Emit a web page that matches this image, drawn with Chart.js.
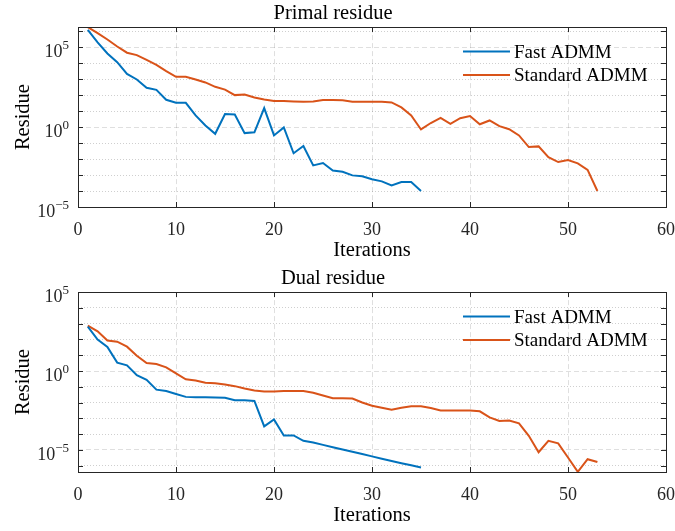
<!DOCTYPE html>
<html>
<head>
<meta charset="utf-8">
<script src="https://cdn.jsdelivr.net/npm/chart.js@4/dist/chart.umd.min.js"></script>
<style>
  body { margin: 0; background: #fff; }
  canvas { position: absolute; left: 0; }
  #primal { top: 0; }
  #dual { top: 265px; }
</style>
</head>
<body>
<canvas id="primal" width="675" height="266"></canvas>
<canvas id="dual" width="675" height="266"></canvas>
<script>
// iteration numbers (x axis)
const iterations = [1,2,3,4,5,6,7,8,9,10,11,12,13,14,15,16,17,18,19,20,21,22,23,24,25,26,27,28,29,30,
  31,32,33,34,35,36,37,38,39,40,41,42,43,44,45,46,47,48,49,50,51,52,53];
const xTicks = [0, 10, 20, 30, 40, 50, 60];
const seriesNames = ['Fast ADMM', 'Standard ADMM'];

// primal residue
const primalFast = [1.2e6, 2.0e5, 4.0e4, 1.15e4, 2.1e3, 950, 290, 215, 51, 33, 33, 5.4, 1.26, 0.38, 6.5, 6.2,
  0.42, 0.47, 15.5, 0.3, 0.95, 0.023, 0.065, 0.004, 0.0056, 0.0019, 0.0016, 9.5e-4, 8.3e-4, 5.4e-4, 4.0e-4,
  2.2e-4, 3.6e-4, 3.6e-4, 1.0e-4];
const primalStd = [1.8e6, 7.6e5, 3.0e5, 1.1e5, 4.5e4, 3.2e4, 1.6e4, 7.9e3, 3.2e3, 1.4e3, 1.4e3, 950, 620, 330,
  220, 100, 110, 71, 54, 43, 43, 40, 38, 40, 49, 49, 47, 38, 38, 38, 38, 35, 17, 5.4, 0.71, 1.8, 3.8, 1.6, 3.6,
  4.9, 1.5, 2.6, 1.15, 0.74, 0.3, 0.056, 0.062, 0.013, 0.0065, 0.0087, 0.0054, 0.0021, 1.0e-4];

// dual residue
const dualFast = [650, 98, 33, 3.4, 2.3, 0.54, 0.28, 0.066, 0.054, 0.035, 0.023, 0.022, 0.022, 0.021, 0.02,
  0.014, 0.014, 0.0126, 3.1e-4, 8.5e-4, 8.3e-5, 8.3e-5, 3.8e-5, 3.0e-5, 2.1e-5, 1.5e-5, 1.07e-5, 7.6e-6,
  5.5e-6, 3.9e-6, 2.8e-6, 2.0e-6, 1.45e-6, 1.07e-6, 7.8e-7];
const dualStd = [760, 330, 85, 72, 35, 9.3, 3.2, 2.8, 1.7, 0.71, 0.3, 0.25, 0.18, 0.17, 0.14, 0.11, 0.079,
  0.059, 0.051, 0.051, 0.054, 0.054, 0.054, 0.042, 0.028, 0.019, 0.019, 0.018, 0.0102, 0.0063, 0.0047,
  0.0035, 0.0047, 0.0058, 0.0058, 0.0045, 0.0032, 0.0032, 0.0032, 0.0032, 0.0028, 0.00115, 6.8e-4, 7.4e-4,
  4.8e-4, 7.9e-5, 7.2e-6, 3.8e-5, 2.6e-5, 3.3e-6, 4.1e-7, 2.6e-6, 1.7e-6];

const FONT = 'Liberation Serif';
const AXIS = '#262626';
const colors = ['#0072BD', '#D95319'];

function pairs(vals) {
  return vals.map((v, i) => ({ x: iterations[i], y: v }));
}

function expOf(v) { return Math.round(Math.log10(v)); }

// axes box, inward tick marks, 10^n labels and the legend (MATLAB look)
const matlabAxes = {
  id: 'matlabAxes',
  afterDatasetsDraw(chart) {
    const ctx = chart.ctx, ca = chart.chartArea;
    const xs = chart.scales.x, ys = chart.scales.y;
    ctx.save();
    ctx.strokeStyle = AXIS;
    ctx.lineWidth = 1;
    ctx.setLineDash([]);
    ctx.beginPath();
    xs.ticks.forEach(t => {
      const px = Math.round(xs.getPixelForValue(t.value)) + 0.5;
      ctx.moveTo(px, ca.bottom); ctx.lineTo(px, ca.bottom - 5);
      ctx.moveTo(px, ca.top); ctx.lineTo(px, ca.top + 5);
    });
    ys.ticks.forEach(t => {
      const py = Math.round(ys.getPixelForValue(t.value)) + 0.5;
      ctx.moveTo(ca.left, py); ctx.lineTo(ca.left + 5, py);
      ctx.moveTo(ca.right, py); ctx.lineTo(ca.right - 5, py);
    });
    ctx.stroke();
    ctx.strokeRect(Math.round(ca.left) + 0.5, Math.round(ca.top) + 0.5,
      Math.round(ca.right - ca.left), Math.round(ca.bottom - ca.top));

    // y tick labels with superscript exponents
    ctx.fillStyle = AXIS;
    ctx.textBaseline = 'alphabetic';
    ys.ticks.forEach(t => {
      const e = expOf(t.value);
      if (e % 5 !== 0) return;
      const py = ys.getPixelForValue(t.value);
      const sup = e < 0 ? '\u2212' + (-e) : String(e);
      ctx.font = '13px "' + FONT + '"';
      const w = ctx.measureText(sup).width;
      const xr = ca.left - 9;
      ctx.textAlign = 'left';
      ctx.fillText(sup, xr - w, py + 2);
      ctx.font = '18px "' + FONT + '"';
      ctx.textAlign = 'right';
      ctx.fillText('10', xr - w, py + 10);
    });

    // legend
    ctx.font = '19px "' + FONT + '"';
    ctx.textAlign = 'left';
    ctx.textBaseline = 'middle';
    chart.data.datasets.forEach((ds, i) => {
      const y = ca.top + 24.5 + i * 23.5;
      ctx.strokeStyle = ds.borderColor;
      ctx.lineWidth = 2;
      ctx.beginPath();
      ctx.moveTo(ca.right - 203, y);
      ctx.lineTo(ca.right - 156, y);
      ctx.stroke();
      ctx.fillStyle = '#000';
      ctx.fillText(ds.label, ca.right - 152, y + 1);
    });
    ctx.restore();
  }
};

function makeChart(id, title, fast, std, yMin, yMax) {
  const el = document.getElementById(id);
  return new Chart(el.getContext('2d'), {
    type: 'line',
    data: {
      datasets: [
        { label: seriesNames[0], data: pairs(fast), borderColor: colors[0], borderWidth: 2, pointRadius: 0 },
        { label: seriesNames[1], data: pairs(std), borderColor: colors[1], borderWidth: 2, pointRadius: 0 }
      ]
    },
    options: {
      responsive: false,
      animation: false,
      layout: { padding: { right: 9 } },
      plugins: {
        legend: { display: false },
        tooltip: { enabled: false },
        title: {
          display: true, text: title, color: '#000',
          font: { family: FONT, size: 20.5, weight: 'normal' },
          padding: { top: 1, bottom: 1.5 }
        }
      },
      scales: {
        x: {
          type: 'linear', min: xTicks[0], max: xTicks[xTicks.length - 1],
          afterBuildTicks(s) { s.ticks = xTicks.map(v => ({ value: v })); },
          afterFit(s) { s.height = 59; s.paddingLeft = 0; s.paddingRight = 0; },
          ticks: { color: AXIS, font: { family: FONT, size: 18 }, padding: 12, maxRotation: 0 },
          grid: {
            drawTicks: false,
            color: c => (c.tick && (c.tick.value === 0 || c.tick.value === 60)) ? 'rgba(0,0,0,0)' : 'rgba(38,38,38,0.15)'
          },
          border: { display: false, dash: [5, 3] },
          title: {
            display: true, text: 'Iterations', color: '#000',
            font: { family: FONT, size: 20.5 }, padding: { bottom: 3 }
          }
        },
        y: {
          type: 'logarithmic', min: yMin, max: yMax,
          afterBuildTicks(s) {
            const t = [];
            for (let e = Math.ceil(Math.log10(yMin) - 1e-9); e <= Math.floor(Math.log10(yMax) + 1e-9); e++) {
              t.push({ value: Math.pow(10, e) });
            }
            s.ticks = t;
          },
          afterFit(s) { s.width = 78; },
          ticks: { display: false },
          grid: {
            drawTicks: false,
            color: c => (c.tick && expOf(c.tick.value) % 5 === 0) ? 'rgba(38,38,38,0.15)' : 'rgba(38,38,38,0.22)'
          },
          border: {
            display: false,
            dash: c => (c.tick && expOf(c.tick.value) % 5 === 0) ? [5, 3] : [1, 2]
          },
          title: {
            display: true, text: 'Residue', color: '#000',
            font: { family: FONT, size: 20.5 }, padding: { top: 11 }
          }
        }
      }
    },
    plugins: [matlabAxes]
  });
}

makeChart('primal', 'Primal residue', primalFast, primalStd, 1e-5, 1.8e6);
makeChart('dual', 'Dual residue', dualFast, dualStd, 4e-7, 1e5);
</script>
</body>
</html>
